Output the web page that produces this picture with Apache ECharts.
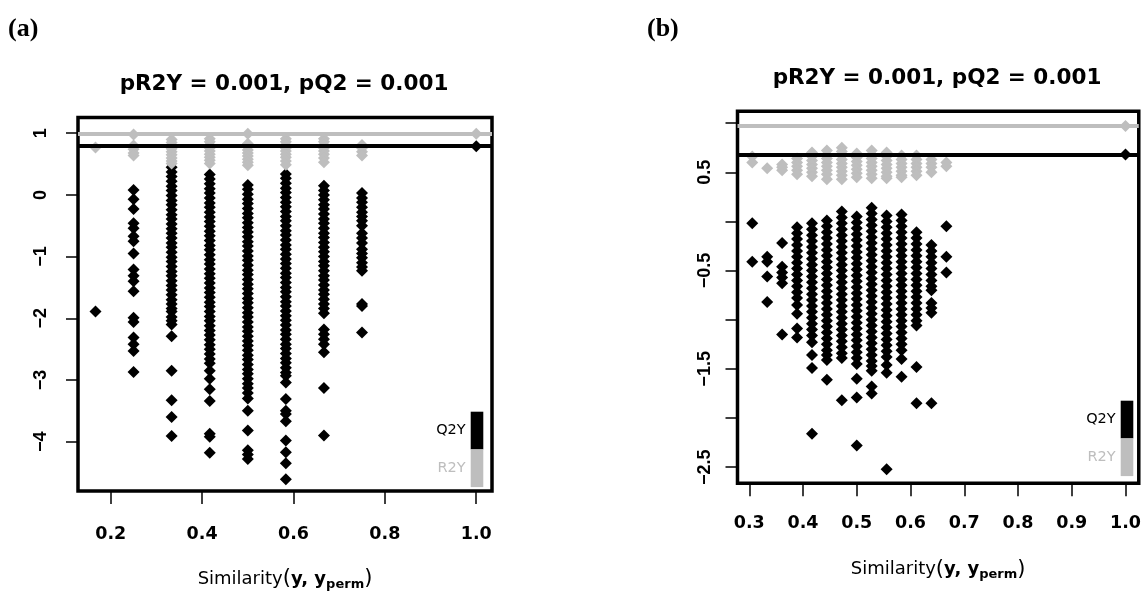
<!DOCTYPE html>
<html>
<head>
<meta charset="utf-8">
<script src="https://cdn.jsdelivr.net/npm/echarts@6/dist/echarts.min.js"></script>
<style>
html,body{margin:0;padding:0;background:#fff;}
#chart{width:1144px;height:596px;}
</style>
</head>
<body>
<div id="chart"></div>
<script>
// ---------- Panel (a) ----------
const simA = [0.1667, 0.25, 0.3333, 0.4167, 0.5, 0.5833, 0.6667, 0.75, 1.0];
const q2A = [
  [-1.89],
  [0.08, -0.07, -0.23, -0.46, -0.54, -0.67, -0.75, -0.95, -1.21, -1.31, -1.40, -1.56, -1.99, -2.06, -2.31, -2.42, -2.53, -2.87],
  [0.45, 0.37, 0.3, 0.22, 0.14, 0.07, -0.01, -0.09, -0.16, -0.24, -0.32, -0.39, -0.47, -0.55, -0.62, -0.7, -0.78, -0.85, -0.93, -1.01, -1.08, -1.16, -1.24, -1.31, -1.39, -1.47, -1.54, -1.62, -1.7, -1.77, -1.84, -1.89, -1.98, -2.04, -2.1, -2.29, -2.85, -3.33, -3.6, -3.91],
  [0.33, 0.26, 0.18, 0.1, 0.03, -0.05, -0.13, -0.2, -0.28, -0.36, -0.43, -0.51, -0.59, -0.66, -0.74, -0.82, -0.89, -0.97, -1.05, -1.12, -1.2, -1.28, -1.35, -1.43, -1.51, -1.58, -1.66, -1.74, -1.81, -1.89, -1.97, -2.04, -2.12, -2.2, -2.27, -2.35, -2.43, -2.5, -2.58, -2.66, -2.73, -2.85, -2.98, -3.15, -3.34, -3.87, -3.92, -4.18],
  [0.16, 0.09, 0.01, -0.07, -0.14, -0.22, -0.3, -0.37, -0.45, -0.53, -0.6, -0.68, -0.76, -0.83, -0.91, -0.99, -1.06, -1.14, -1.22, -1.29, -1.37, -1.45, -1.52, -1.6, -1.68, -1.75, -1.83, -1.91, -1.98, -2.06, -2.14, -2.21, -2.29, -2.37, -2.44, -2.52, -2.6, -2.67, -2.75, -2.83, -2.9, -2.98, -3.06, -3.13, -3.21, -3.3, -3.5, -3.82, -4.14, -4.21, -4.28],
  [0.34, 0.27, 0.19, 0.11, 0.04, -0.04, -0.12, -0.19, -0.27, -0.35, -0.42, -0.5, -0.58, -0.65, -0.73, -0.81, -0.88, -0.96, -1.04, -1.11, -1.19, -1.27, -1.34, -1.42, -1.5, -1.57, -1.65, -1.73, -1.8, -1.88, -1.96, -2.03, -2.11, -2.19, -2.26, -2.34, -2.42, -2.49, -2.57, -2.65, -2.72, -2.8, -2.88, -2.93, -3.04, -3.31, -3.5, -3.55, -3.67, -3.98, -4.17, -4.35, -4.61],
  [0.15, 0.07, 0.0, -0.08, -0.16, -0.23, -0.31, -0.39, -0.46, -0.54, -0.62, -0.69, -0.77, -0.85, -0.92, -1.0, -1.08, -1.15, -1.23, -1.31, -1.38, -1.46, -1.54, -1.61, -1.69, -1.77, -1.84, -1.92, -2.18, -2.26, -2.34, -2.42, -2.55, -3.13, -3.9],
  [0.03, -0.05, -0.12, -0.2, -0.28, -0.35, -0.42, -0.5, -0.62, -0.7, -0.78, -0.88, -0.95, -1.02, -1.1, -1.17, -1.23, -1.77, -1.8, -2.23],
  [0.79]
];
const r2A = [
  [0.77],
  [0.98, 0.8, 0.74, 0.68, 0.64],
  [0.9, 0.85, 0.8, 0.75, 0.7, 0.65, 0.6, 0.55, 0.51],
  [0.91, 0.86, 0.81, 0.76, 0.71, 0.66, 0.61, 0.56, 0.51],
  [0.99, 0.83, 0.78, 0.73, 0.68, 0.63, 0.58, 0.53, 0.48],
  [0.91, 0.86, 0.81, 0.76, 0.71, 0.66, 0.61, 0.55, 0.49],
  [0.91, 0.86, 0.81, 0.76, 0.71, 0.66, 0.6, 0.53],
  [0.81, 0.76, 0.7, 0.64],
  [0.99]
];
const modelA = { r2: 0.99, q2: 0.79 };
const xTicksA = [0.2, 0.4, 0.6, 0.8, 1.0];
const yTicksA = [-4, -3, -2, -1, 0, 1];

// ---------- Panel (b) ----------
const simB = [0.3056, 0.3333, 0.3611, 0.3889, 0.4167, 0.4444, 0.4722, 0.5, 0.5278, 0.5556, 0.5833, 0.6111, 0.6389, 0.6667, 1.0];
const q2B = [
  [-0.02, -0.41],
  [-0.36, -0.41, -0.56, -0.82],
  [-0.22, -0.46, -0.52, -0.57, -0.63, -1.15],
  [-0.06, -0.12, -0.18, -0.24, -0.3, -0.36, -0.42, -0.48, -0.54, -0.6, -0.66, -0.72, -0.78, -0.85, -0.94, -1.09, -1.18],
  [-0.02, -0.08, -0.14, -0.2, -0.26, -0.32, -0.38, -0.44, -0.5, -0.56, -0.62, -0.68, -0.74, -0.8, -0.86, -0.92, -0.98, -1.04, -1.1, -1.16, -1.23, -1.36, -1.49, -2.16],
  [0.01, -0.05, -0.11, -0.17, -0.23, -0.29, -0.35, -0.41, -0.47, -0.53, -0.59, -0.65, -0.71, -0.77, -0.83, -0.89, -0.95, -1.01, -1.07, -1.13, -1.19, -1.25, -1.31, -1.36, -1.41, -1.61],
  [0.1, 0.04, -0.02, -0.08, -0.14, -0.2, -0.26, -0.32, -0.38, -0.44, -0.5, -0.56, -0.62, -0.68, -0.74, -0.8, -0.86, -0.92, -0.98, -1.04, -1.1, -1.16, -1.22, -1.28, -1.34, -1.39, -1.82],
  [0.05, -0.01, -0.07, -0.13, -0.19, -0.25, -0.31, -0.37, -0.43, -0.49, -0.55, -0.61, -0.67, -0.73, -0.79, -0.85, -0.91, -0.97, -1.03, -1.09, -1.15, -1.21, -1.27, -1.33, -1.39, -1.45, -1.6, -1.79, -2.28],
  [0.14, 0.08, 0.02, -0.04, -0.1, -0.16, -0.22, -0.28, -0.34, -0.4, -0.46, -0.52, -0.58, -0.64, -0.7, -0.76, -0.82, -0.88, -0.94, -1.0, -1.06, -1.12, -1.18, -1.24, -1.3, -1.36, -1.42, -1.47, -1.52, -1.68, -1.75],
  [0.06, 0.0, -0.06, -0.12, -0.18, -0.24, -0.3, -0.36, -0.42, -0.48, -0.54, -0.6, -0.66, -0.72, -0.78, -0.84, -0.9, -0.96, -1.02, -1.08, -1.14, -1.2, -1.26, -1.32, -1.38, -1.46, -1.54, -2.52],
  [0.07, 0.01, -0.05, -0.11, -0.17, -0.23, -0.29, -0.35, -0.41, -0.47, -0.53, -0.59, -0.65, -0.71, -0.77, -0.83, -0.89, -0.95, -1.01, -1.07, -1.13, -1.19, -1.25, -1.31, -1.4, -1.58],
  [-0.11, -0.17, -0.23, -0.29, -0.35, -0.41, -0.47, -0.53, -0.59, -0.65, -0.71, -0.77, -0.83, -0.89, -0.95, -1.01, -1.06, -1.48, -1.85],
  [-0.24, -0.3, -0.36, -0.42, -0.48, -0.54, -0.6, -0.66, -0.7, -0.83, -0.88, -0.93, -1.85],
  [-0.05, -0.36, -0.52],
  [0.68]
];
const r2B = [
  [0.66, 0.6],
  [0.54],
  [0.58, 0.55, 0.52],
  [0.64, 0.6, 0.56, 0.52, 0.48],
  [0.7, 0.66, 0.62, 0.58, 0.54, 0.5, 0.46],
  [0.72, 0.68, 0.64, 0.6, 0.56, 0.52, 0.48, 0.43],
  [0.75, 0.71, 0.67, 0.63, 0.59, 0.55, 0.51, 0.47, 0.43],
  [0.69, 0.65, 0.61, 0.57, 0.53, 0.49, 0.45],
  [0.72, 0.68, 0.64, 0.6, 0.56, 0.52, 0.48, 0.44],
  [0.7, 0.66, 0.62, 0.58, 0.54, 0.5, 0.46, 0.44],
  [0.67, 0.63, 0.59, 0.55, 0.51, 0.47, 0.45],
  [0.67, 0.63, 0.59, 0.55, 0.51, 0.47],
  [0.63, 0.59, 0.55, 0.5],
  [0.6, 0.56],
  [0.97]
];
const modelB = { r2: 0.97, q2: 0.68 };
const xTicksB = [0.3, 0.4, 0.5, 0.6, 0.7, 0.8, 0.9, 1.0];
const yTicksB = [1.0, 0.5, 0.0, -0.5, -1.0, -1.5, -2.0, -2.5];
const yLabelsB = [0.5, -0.5, -1.5, -2.5];

const titleText = 'pR2Y = 0.001, pQ2 = 0.001';
const panelLabels = ['(a)', '(b)'];
const xName = '{r|Similarity}{p|(}{b|y, y}{s|perm}{p|)}';

// ---------- build ----------
function pairs(xs, cols) {
  const out = [];
  cols.forEach((c, i) => c.forEach(v => out.push([xs[i], v])));
  return out;
}
const BLACK = '#000000', GREY = '#bebebe';
const minus = s => String(s).replace('-', '\u2212');

function xAxisCfg(grid, min, max, ticks, margin, gap) {
  return {
    gridIndex: grid, type: 'value', min: min, max: max,
    splitLine: { show: false },
    axisLine: { show: false, onZero: false },
    axisTick: { show: true, length: 13, customValues: ticks, lineStyle: { color: BLACK, width: 1.5 } },
    axisLabel: { customValues: ticks, formatter: v => v.toFixed(1), margin: margin,
      fontFamily: 'DejaVu Sans', fontWeight: 'bold', fontSize: 17.5, color: BLACK },
    name: xName, nameLocation: 'middle', nameGap: gap,
    nameTextStyle: { rich: {
      r: { fontFamily: 'DejaVu Sans', fontSize: 18, color: BLACK, lineHeight: 24 },
      p: { fontFamily: 'DejaVu Sans', fontSize: 21, color: BLACK, lineHeight: 24 },
      b: { fontFamily: 'DejaVu Sans', fontWeight: 'bold', fontSize: 18, color: BLACK, lineHeight: 24 },
      s: { fontFamily: 'DejaVu Sans', fontWeight: 'bold', fontSize: 13, color: BLACK, lineHeight: 12, verticalAlign: 'bottom' }
    } }
  };
}
function yAxisCfg(grid, min, max, ticks, labels, fmt, margin) {
  return {
    gridIndex: grid, type: 'value', min: min, max: max,
    splitLine: { show: false },
    axisLine: { show: false, onZero: false },
    axisTick: { show: true, length: 12, customValues: ticks, lineStyle: { color: BLACK, width: 1.5 } },
    axisLabel: { customValues: labels, formatter: fmt, rotate: 90, margin: margin,
      fontFamily: 'Liberation Sans', fontWeight: 'bold', fontSize: 18, color: BLACK }
  };
}
function series(name, color, xi, data, lineY) {
  return {
    type: 'scatter', name: name, xAxisIndex: xi, yAxisIndex: xi, data: data,
    symbol: 'diamond', symbolSize: [12, 12], itemStyle: { color: color, opacity: 1 }, silent: true,
    markLine: { silent: true, symbol: 'none', label: { show: false },
      lineStyle: { color: color, width: 4, type: 'solid', opacity: 1 }, data: [{ yAxis: lineY }] }
  };
}
function legendCfg(right, top) {
  return {
    orient: 'vertical', right: right, top: top, align: 'right', padding: 0,
    itemWidth: 12.6, itemHeight: 37.7, itemGap: 0, icon: 'rect', selectedMode: false,
    itemStyle: { opacity: 1 },
    textStyle: { fontFamily: 'DejaVu Sans', fontSize: 14.5 },
    data: [{ name: 'Q2Y', textStyle: { color: BLACK } }, { name: 'R2Y', textStyle: { color: GREY } }]
  };
}

const chart = echarts.init(document.getElementById('chart'), null, { renderer: 'canvas' });
chart.setOption({
  animation: false,
  backgroundColor: '#ffffff',
  title: [
    { text: panelLabels[0], left: 8, top: 16, padding: 0,
      textStyle: { fontFamily: 'Liberation Serif', fontWeight: 'bold', fontSize: 26, color: BLACK } },
    { text: panelLabels[1], left: 647, top: 16, padding: 0,
      textStyle: { fontFamily: 'Liberation Serif', fontWeight: 'bold', fontSize: 26, color: BLACK } },
    { text: titleText, left: 284, top: 73, textAlign: 'center', padding: 0,
      textStyle: { fontFamily: 'DejaVu Sans', fontWeight: 'bold', fontSize: 21.5, color: BLACK } },
    { text: titleText, left: 937, top: 67, textAlign: 'center', padding: 0,
      textStyle: { fontFamily: 'DejaVu Sans', fontWeight: 'bold', fontSize: 21.5, color: BLACK } }
  ],
  legend: [legendCfg(660.7, 411.7), legendCfg(10.7, 400.7)],
  grid: [
    { left: 78, top: 117.5, width: 414, height: 375.5, show: true, borderColor: BLACK, borderWidth: 3.5, backgroundColor: 'transparent' },
    { left: 737.5, top: 111.3, width: 402.5, height: 372, show: true, borderColor: BLACK, borderWidth: 3.5, backgroundColor: 'transparent' }
  ],
  xAxis: [
    xAxisCfg(0, 0.1284, 1.0345, xTicksA, 34, 76),
    xAxisCfg(1, 0.2781, 1.0247, xTicksB, 31, 74)
  ],
  yAxis: [
    yAxisCfg(0, -4.80, 1.255, yTicksA, yTicksA, v => minus(v), 28),
    yAxisCfg(1, -2.664, 1.12, yTicksB, yLabelsB, v => minus(v.toFixed(1)), 23)
  ],
  series: [
    series('Q2Y', BLACK, 0, pairs(simA, q2A), modelA.q2),
    series('R2Y', GREY, 0, pairs(simA, r2A), modelA.r2),
    series('Q2Y', BLACK, 1, pairs(simB, q2B), modelB.q2),
    series('R2Y', GREY, 1, pairs(simB, r2B), modelB.r2)
  ]
});
</script>
</body>
</html>
